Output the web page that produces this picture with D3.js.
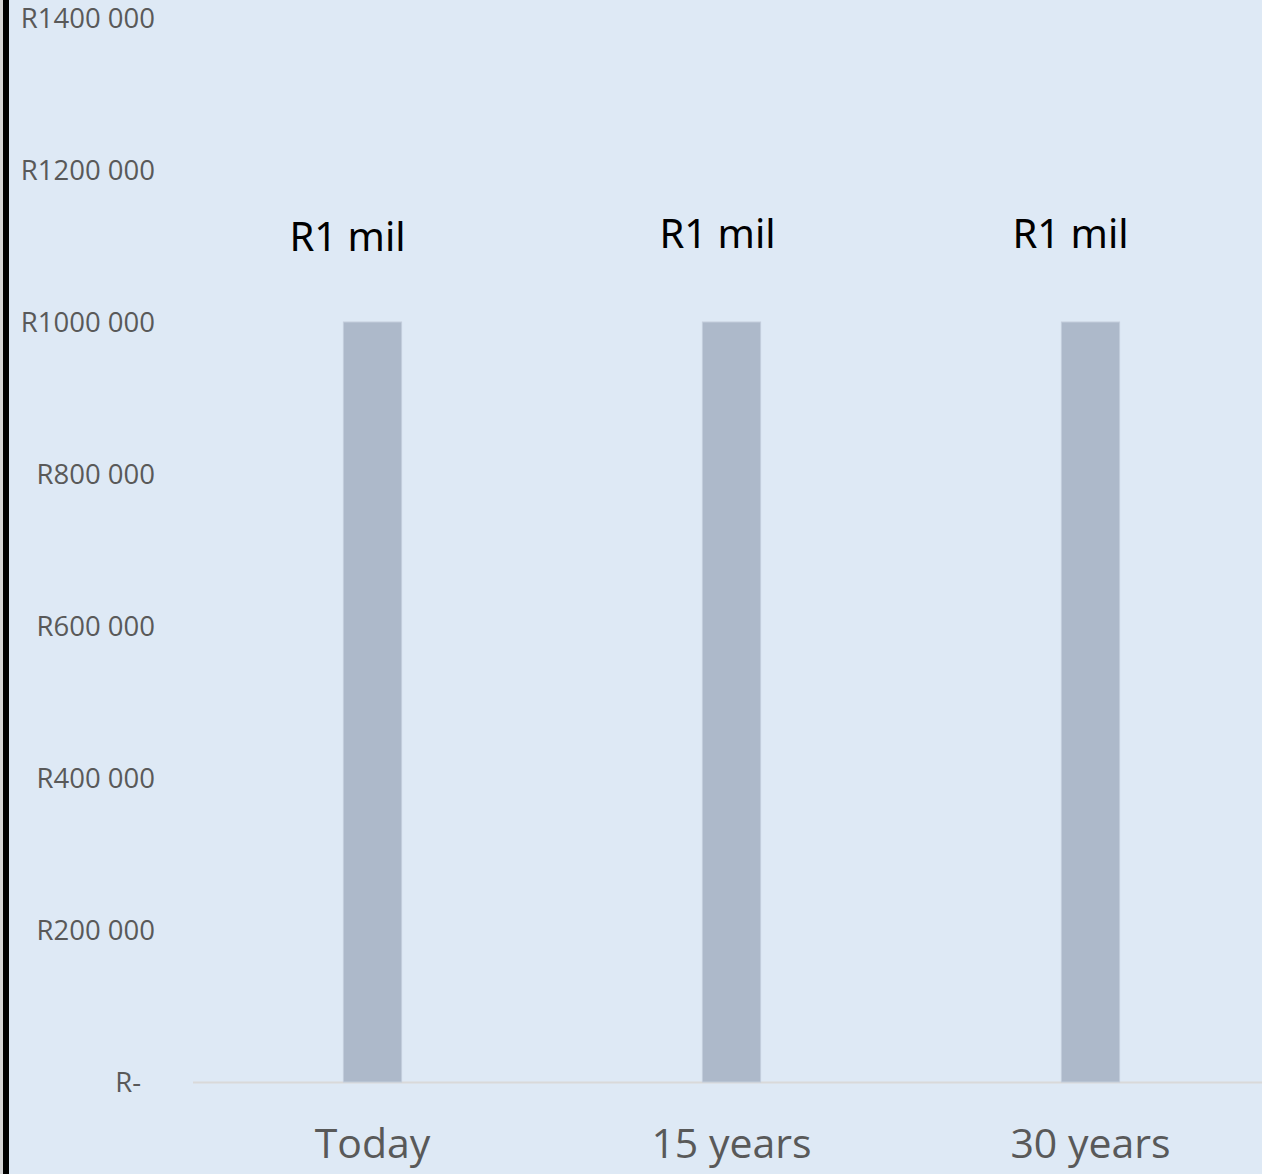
<!DOCTYPE html>
<html>
<head>
<meta charset="utf-8">
<script src="https://cdn.jsdelivr.net/npm/d3@7"></script>
<style>
  html, body { margin: 0; padding: 0; background: #dee9f5; }
  svg { display: block; }
</style>
</head>
<body>
<svg id="chart" width="1262" height="1174"></svg>
<script>
// Value of R1 million over time
const categories = ["Today", "15 years", "30 years"];
const values = [1000000, 1000000, 1000000];
const valueLabels = ["R1 mil", "R1 mil", "R1 mil"];
const tickValues = [0, 200000, 400000, 600000, 800000, 1000000, 1200000, 1400000];
const tickLabels = ["R-", "R200 000", "R400 000", "R600 000", "R800 000", "R1000 000", "R1200 000", "R1400 000"];
const labelShift = [-25, -14, -20];

const W = 1262, H = 1174;
const svg = d3.select("#chart");

svg.append("rect").attr("width", W).attr("height", H).attr("fill", "#dee9f5");

// left frame edge
svg.append("rect").attr("x", 0).attr("y", 0).attr("width", 3).attr("height", H).attr("fill", "#d4d4d4");
svg.append("rect").attr("x", 3).attr("y", 0).attr("width", 6).attr("height", H).attr("fill", "#000");

const x = d3.scaleBand().domain(categories).range([193, 1270]).paddingInner(0.838).paddingOuter(0.419);
const y = d3.scaleLinear().domain([0, 1400000]).range([1082, 18]);

// baseline
svg.append("line")
  .attr("x1", 193).attr("x2", W)
  .attr("y1", y(0) + 0.5).attr("y2", y(0) + 0.5)
  .attr("stroke", "#d9d9d9").attr("stroke-width", 2);

// y axis labels
const yAxis = d3.axisLeft(y).tickValues(tickValues)
  .tickFormat((d, i) => tickLabels[i]).tickSize(0).tickPadding(0);
const gy = svg.append("g").attr("transform", "translate(155,0)").call(yAxis);
gy.select(".domain").remove();
gy.selectAll("text")
  .attr("fill", "#595959")
  .style("font-family", "'Open Sans', sans-serif")
  .style("font-size", "27.5px")
  .attr("dy", "0.35em")
  .attr("dx", d => d === 0 ? -14 : 0);

// bars
svg.append("g").selectAll("rect").data(values).join("rect")
  .attr("x", (d, i) => x(categories[i]))
  .attr("width", x.bandwidth())
  .attr("y", d => y(d))
  .attr("height", d => y(0) - y(d))
  .attr("fill", "#adb9ca")
  .attr("stroke", "#c3cedc")
  .attr("stroke-width", 1);

// value labels
svg.append("g").selectAll("text").data(values).join("text")
  .attr("x", (d, i) => x(categories[i]) + x.bandwidth() / 2 + labelShift[i])
  .attr("y", (d, i) => y(d) - (i === 0 ? 71 : 74))
  .attr("text-anchor", "middle")
  .attr("fill", "#000")
  .style("font-family", "'Noto Sans', sans-serif")
  .style("font-size", "40px")
  .text((d, i) => valueLabels[i]);

// x axis labels
const xAxis = d3.axisBottom(x).tickSize(0).tickPadding(0);
const gx = svg.append("g").attr("transform", `translate(0,${y(0)})`).call(xAxis);
gx.select(".domain").remove();
gx.selectAll("text")
  .attr("y", 76)
  .attr("dy", 0)
  .attr("fill", "#595959")
  .style("font-family", "'Open Sans', sans-serif")
  .style("font-size", "41px");
</script>
</body>
</html>
